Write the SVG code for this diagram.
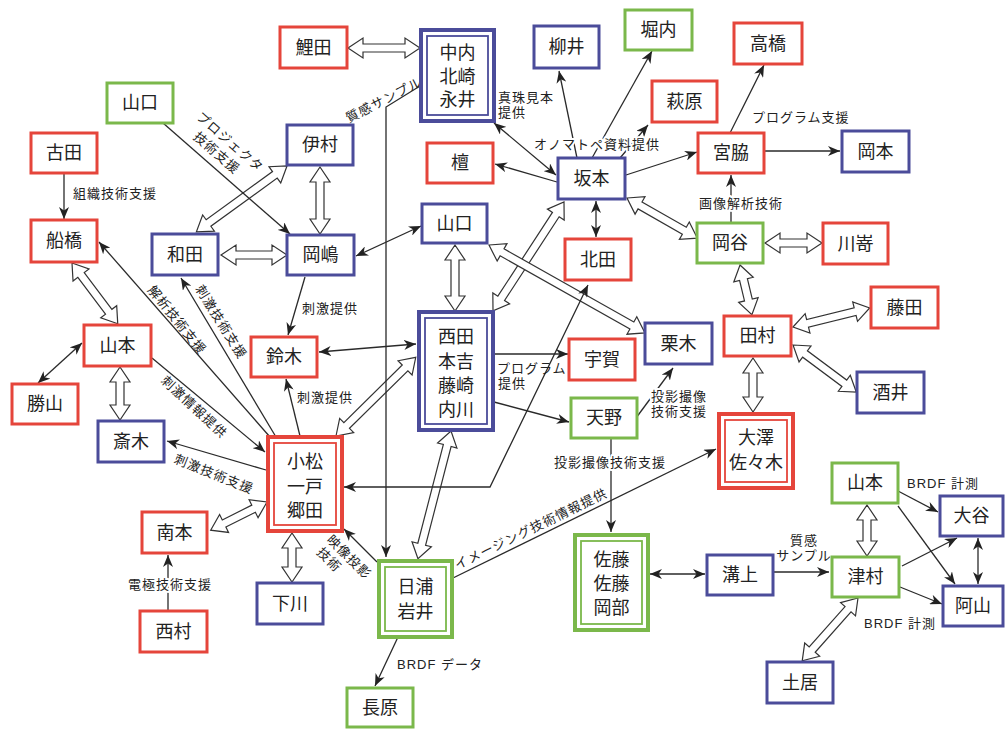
<svg xmlns="http://www.w3.org/2000/svg" width="1006" height="729" viewBox="0 0 1006 729">
<style>
text{font-family:'Liberation Sans','Noto Sans CJK JP',sans-serif;fill:#222}
.n{font-size:18px;text-anchor:middle;dominant-baseline:central}
.l{font-size:13px;letter-spacing:1px;dominant-baseline:central}
.m{text-anchor:middle}
.h{paint-order:stroke;stroke:#fff;stroke-width:4px;stroke-linejoin:round}
rect{fill:#fff}
.r{stroke:#e5453b;stroke-width:3}
.b{stroke:#4b4c9a;stroke-width:3}
.g{stroke:#7bb84b;stroke-width:3}
.o{stroke-width:4}
.i{stroke-width:1.8}
.ba{fill:#fff;stroke:#333;stroke-width:1.2;stroke-linejoin:miter}
.t{fill:none;stroke:#2a2a2a;stroke-width:1.3}
.e{marker-end:url(#ah)}
.d{marker-start:url(#ah);marker-end:url(#ah)}
</style>
<defs>
<marker id="ah" viewBox="0 0 12 10" refX="12" refY="5" markerWidth="12" markerHeight="10" markerUnits="userSpaceOnUse" orient="auto-start-reverse"><path d="M0,0 L12,5 L0,10 L3.5,5 z" fill="#222"/></marker>
</defs>
<rect x="0" y="0" width="1006" height="729" style="fill:#fff"/>

<g id="connectors">
<g id="block-arrows">
<polygon class="ba" transform="translate(348,48)" points="0,0 15,-10 15,-4 57,-4 57,-10 72,0 57,10 57,4 15,4 15,10"/>
<polygon class="ba" transform="translate(320,167) rotate(90)" points="0,0 15,-10 15,-4 52,-4 52,-10 67,0 52,10 52,4 15,4 15,10"/>
<polygon class="ba" transform="translate(287,166) rotate(144)" points="0,0 15,-10 15,-4 97,-4 97,-10 112,0 97,10 97,4 15,4 15,10"/>
<polygon class="ba" transform="translate(221,255)" points="0,0 15,-10 15,-4 51,-4 51,-10 66,0 51,10 51,4 15,4 15,10"/>
<polygon class="ba" transform="translate(72,263) rotate(53)" points="0,0 15,-10 15,-4 61,-4 61,-10 76,0 61,10 61,4 15,4 15,10"/>
<polygon class="ba" transform="translate(120,367) rotate(90)" points="0,0 15,-10 15,-4 38,-4 38,-10 53,0 38,10 38,4 15,4 15,10"/>
<polygon class="ba" transform="translate(292,533) rotate(90)" points="0,0 15,-10 15,-4 34,-4 34,-10 49,0 34,10 34,4 15,4 15,10"/>
<polygon class="ba" transform="translate(267,502) rotate(153.4)" points="0,0 15,-10 15,-4 48,-4 48,-10 63,0 48,10 48,4 15,4 15,10"/>
<polygon class="ba" transform="translate(336,436) rotate(-44.6)" points="0,0 15,-10 15,-4 97,-4 97,-10 112,0 97,10 97,4 15,4 15,10"/>
<polygon class="ba" transform="translate(455,245) rotate(90)" points="0,0 15,-10 15,-4 51,-4 51,-10 66,0 51,10 51,4 15,4 15,10"/>
<polygon class="ba" transform="translate(564,202) rotate(123.1)" points="0,0 15,-10 15,-4 115,-4 115,-10 130,0 115,10 115,4 15,4 15,10"/>
<polygon class="ba" transform="translate(489,245) rotate(29.4)" points="0,0 15,-10 15,-4 164,-4 164,-10 179,0 164,10 164,4 15,4 15,10"/>
<polygon class="ba" transform="translate(627,198) rotate(29.7)" points="0,0 15,-10 15,-4 66,-4 66,-10 81,0 66,10 66,4 15,4 15,10"/>
<polygon class="ba" transform="translate(765,243)" points="0,0 15,-10 15,-4 42,-4 42,-10 57,0 42,10 42,4 15,4 15,10"/>
<polygon class="ba" transform="translate(740,265) rotate(76.5)" points="0,0 15,-10 15,-4 36,-4 36,-10 51,0 36,10 36,4 15,4 15,10"/>
<polygon class="ba" transform="translate(793,327) rotate(-13.9)" points="0,0 15,-10 15,-4 64,-4 64,-10 79,0 64,10 64,4 15,4 15,10"/>
<polygon class="ba" transform="translate(793,345) rotate(36.7)" points="0,0 15,-10 15,-4 64,-4 64,-10 79,0 64,10 64,4 15,4 15,10"/>
<polygon class="ba" transform="translate(753,358) rotate(90)" points="0,0 15,-10 15,-4 39,-4 39,-10 54,0 39,10 39,4 15,4 15,10"/>
<polygon class="ba" transform="translate(451,431) rotate(104.5)" points="0,0 15,-10 15,-4 117,-4 117,-10 132,0 117,10 117,4 15,4 15,10"/>
<polygon class="ba" transform="translate(867,505) rotate(90)" points="0,0 15,-10 15,-4 36,-4 36,-10 51,0 36,10 36,4 15,4 15,10"/>
<polygon class="ba" transform="translate(858,598) rotate(131.6)" points="0,0 15,-10 15,-4 69,-4 69,-10 84,0 69,10 69,4 15,4 15,10"/>
</g>
<g id="thin-arrows">
<line class="t e" x1="64" y1="174" x2="64" y2="219"/>
<line class="t e" x1="163" y1="123" x2="290" y2="234"/>
<line class="t d" x1="356" y1="256" x2="421" y2="226"/>
<line class="t e" x1="305" y1="277" x2="288" y2="335"/>
<line class="t e" x1="276" y1="437" x2="181" y2="278"/>
<line class="t e" x1="270" y1="437" x2="99" y2="242"/>
<line class="t e" x1="152" y1="358" x2="265" y2="452"/>
<line class="t e" x1="266" y1="470" x2="167" y2="441"/>
<line class="t e" x1="300" y1="436" x2="286" y2="379"/>
<line class="t d" x1="319" y1="352" x2="416" y2="344"/>
<line class="t d" x1="38" y1="383" x2="82" y2="343"/>
<line class="t e" x1="168" y1="611" x2="168" y2="555"/>
<polyline class="t e" points="420,86 386,107 386,557"/>
<line class="t d" x1="556" y1="175" x2="494" y2="123"/>
<line class="t e" x1="557" y1="182" x2="495" y2="164"/>
<line class="t e" x1="577" y1="158" x2="559" y2="71"/>
<line class="t e" x1="592" y1="158" x2="652" y2="51"/>
<line class="t e" x1="620" y1="158" x2="648" y2="125"/>
<line class="t e" x1="626" y1="175" x2="697" y2="152"/>
<line class="t e" x1="730" y1="133" x2="764" y2="65"/>
<line class="t e" x1="765" y1="151" x2="840" y2="151"/>
<line class="t e" x1="731" y1="222" x2="731" y2="175"/>
<line class="t d" x1="596" y1="201" x2="596" y2="237"/>
<line class="t e" x1="494" y1="354" x2="568" y2="354"/>
<line class="t e" x1="494" y1="402" x2="569" y2="422"/>
<line class="t e" x1="636" y1="418" x2="673" y2="368"/>
<line class="t e" x1="611" y1="439" x2="611" y2="532"/>
<line class="t e" x1="453" y1="578" x2="716" y2="449"/>
<polyline class="t d" points="344,487 490,487 588,285"/>
<line class="t e" x1="377" y1="562" x2="344" y2="529"/>
<line class="t e" x1="398" y1="637" x2="375" y2="686"/>
<line class="t d" x1="650" y1="574" x2="705" y2="574"/>
<line class="t e" x1="774" y1="572" x2="829" y2="572"/>
<line class="t e" x1="898" y1="491" x2="938" y2="512"/>
<line class="t e" x1="898" y1="506" x2="955" y2="584"/>
<line class="t e" x1="902" y1="566" x2="957" y2="538"/>
<line class="t e" x1="900" y1="587" x2="942" y2="604"/>
<line class="t d" x1="978" y1="538" x2="978" y2="584"/>
</g>
<g id="labels">
<text class="l" x="73" y="193">組織技術支援</text>
<g transform="translate(230,142) rotate(41)"><text class="l m" x="0" y="0">プロジェクタ</text><text class="l m" x="-3" y="17">技術支援</text></g>
<text class="l m" transform="translate(384,100) rotate(-27)">質感サンプル</text>
<text class="l m" transform="translate(177,320) rotate(51)">解析技術支援</text>
<text class="l m" transform="translate(221,322) rotate(58)">刺激技術支援</text>
<text class="l m" transform="translate(194,407) rotate(43)">刺激情報提供</text>
<text class="l m" transform="translate(214,474) rotate(22)">刺激技術支援</text>
<text class="l" x="302" y="308">刺激提供</text>
<text class="l" x="297" y="397">刺激提供</text>
<text class="l" x="498" y="97">真珠見本</text>
<text class="l" x="498" y="112">提供</text>
<text class="l h" x="534" y="144">オノマトペ資料提供</text>
<text class="l" x="752" y="117">プログラム支援</text>
<text class="l m h" x="741" y="203">画像解析技術</text>
<text class="l" x="497" y="368">プログラム</text>
<text class="l" x="498" y="383">提供</text>
<text class="l h" x="651" y="396">投影撮像</text>
<text class="l h" x="651" y="411">技術支援</text>
<text class="l m h" x="610" y="462">投影撮像技術支援</text>
<text class="l m h" x="170" y="584">電極技術支援</text>
<g transform="translate(349,557) rotate(45)"><text class="l m" x="0" y="0">映像投影</text><text class="l m" x="-12" y="16">技術</text></g>
<text class="l m" transform="translate(531,529) rotate(-26)">イメージング技術情報提供</text>
<text class="l" x="397" y="664">BRDF データ</text>
<text class="l m" x="804" y="540">質感</text>
<text class="l m" x="804" y="555">サンプル</text>
<text class="l" x="907" y="483">BRDF 計測</text>
<text class="l" x="864" y="623">BRDF 計測</text>
</g>
</g>

<g id="koida"><rect class="r" x="280" y="27" width="67" height="41"/><text class="n" x="313.5" y="47.5">鯉田</text></g>
<g id="nakauchi"><rect class="b o" x="421" y="30" width="73" height="91"/><rect class="b i" x="427" y="36" width="61" height="79"/><text class="n" x="457.5" y="53">中内</text><text class="n" x="457.5" y="77">北崎</text><text class="n" x="457.5" y="100">永井</text></g>
<g id="yanai"><rect class="b" x="534" y="26" width="65" height="42"/><text class="n" x="566.5" y="47">柳井</text></g>
<g id="horiuchi"><rect class="g" x="625" y="10" width="67" height="40"/><text class="n" x="658.5" y="30">堀内</text></g>
<g id="takahashi"><rect class="r" x="734" y="23" width="68" height="41"/><text class="n" x="768" y="43.5">高橋</text></g>
<g id="hagiwara"><rect class="r" x="652" y="81" width="65" height="41"/><text class="n" x="684.5" y="101.5">萩原</text></g>
<g id="miyawaki"><rect class="r" x="698" y="133" width="66" height="40"/><text class="n" x="731" y="153">宮脇</text></g>
<g id="okamoto"><rect class="b" x="842" y="131" width="67" height="41"/><text class="n" x="875.5" y="151.5">岡本</text></g>
<g id="mayumi"><rect class="r" x="427" y="143" width="66" height="40"/><text class="n" x="460" y="163">檀</text></g>
<g id="sakamoto"><rect class="b" x="558" y="158" width="67" height="41"/><text class="n" x="591.5" y="178.5">坂本</text></g>
<g id="yamaguchi-c"><rect class="b" x="422" y="204" width="65" height="39"/><text class="n" x="454.5" y="223.5">山口</text></g>
<g id="kitada"><rect class="r" x="565" y="239" width="66" height="41"/><text class="n" x="598" y="259.5">北田</text></g>
<g id="okaya"><rect class="g" x="697" y="223" width="66" height="40"/><text class="n" x="730" y="243">岡谷</text></g>
<g id="kawasaki"><rect class="r" x="823" y="223" width="65" height="41"/><text class="n" x="855.5" y="243.5">川嵜</text></g>
<g id="furuta"><rect class="r" x="31" y="133" width="66" height="40"/><text class="n" x="64" y="153">古田</text></g>
<g id="yamaguchi-g"><rect class="g" x="107" y="83" width="66" height="40"/><text class="n" x="140" y="103">山口</text></g>
<g id="imura"><rect class="b" x="287" y="125" width="66" height="40"/><text class="n" x="320" y="145">伊村</text></g>
<g id="funabashi"><rect class="r" x="31" y="220" width="66" height="42"/><text class="n" x="64" y="241">船橋</text></g>
<g id="wada"><rect class="b" x="152" y="234" width="66" height="41"/><text class="n" x="185" y="254.5">和田</text></g>
<g id="okajima"><rect class="b" x="287" y="235" width="67" height="40"/><text class="n" x="320.5" y="255">岡嶋</text></g>
<g id="yamamoto-r"><rect class="r" x="84" y="325" width="67" height="41"/><text class="n" x="117.5" y="345.5">山本</text></g>
<g id="katsuyama"><rect class="r" x="12" y="384" width="66" height="40"/><text class="n" x="45" y="404">勝山</text></g>
<g id="saiki"><rect class="b" x="98" y="421" width="66" height="41"/><text class="n" x="131" y="441.5">斎木</text></g>
<g id="suzuki"><rect class="r" x="251" y="337" width="66" height="40"/><text class="n" x="284" y="357">鈴木</text></g>
<g id="nishida"><rect class="b o" x="419" y="312" width="74" height="118"/><rect class="b i" x="425" y="318" width="62" height="106"/><text class="n" x="456" y="337">西田</text><text class="n" x="456" y="362">本吉</text><text class="n" x="456" y="386">藤崎</text><text class="n" x="456" y="410">内川</text></g>
<g id="uga"><rect class="r" x="569" y="339" width="66" height="41"/><text class="n" x="602" y="359.5">宇賀</text></g>
<g id="kuriki"><rect class="b" x="645" y="323" width="67" height="41"/><text class="n" x="678.5" y="343.5">栗木</text></g>
<g id="amano"><rect class="g" x="571" y="398" width="66" height="40"/><text class="n" x="604" y="418">天野</text></g>
<g id="tamura"><rect class="r" x="724" y="316" width="67" height="40"/><text class="n" x="757.5" y="336">田村</text></g>
<g id="fujita"><rect class="r" x="871" y="287" width="67" height="41"/><text class="n" x="904.5" y="307.5">藤田</text></g>
<g id="sakai"><rect class="b" x="857" y="372" width="67" height="41"/><text class="n" x="890.5" y="392.5">酒井</text></g>
<g id="osawa"><rect class="r o" x="719" y="414" width="74" height="74"/><rect class="r i" x="725" y="420" width="62" height="62"/><text class="n" x="756" y="438">大澤</text><text class="n" x="756" y="463">佐々木</text></g>
<g id="komatsu"><rect class="r o" x="268" y="437" width="74" height="94"/><rect class="r i" x="274" y="443" width="62" height="82"/><text class="n" x="305" y="462">小松</text><text class="n" x="305" y="487">一戸</text><text class="n" x="305" y="511">郷田</text></g>
<g id="minamimoto"><rect class="r" x="142" y="512" width="65" height="41"/><text class="n" x="174.5" y="532.5">南本</text></g>
<g id="nishimura"><rect class="r" x="140" y="611" width="67" height="41"/><text class="n" x="173.5" y="631.5">西村</text></g>
<g id="shimokawa"><rect class="b" x="257" y="583" width="66" height="41"/><text class="n" x="290" y="603.5">下川</text></g>
<g id="hiura"><rect class="g o" x="379" y="561" width="73" height="76"/><rect class="g i" x="385" y="567" width="61" height="64"/><text class="n" x="415.5" y="587">日浦</text><text class="n" x="415.5" y="612">岩井</text></g>
<g id="nagahara"><rect class="g" x="347" y="688" width="66" height="39"/><text class="n" x="380" y="707.5">長原</text></g>
<g id="sato"><rect class="g o" x="575" y="535" width="73" height="95"/><rect class="g i" x="581" y="541" width="61" height="83"/><text class="n" x="611.5" y="560">佐藤</text><text class="n" x="611.5" y="584">佐藤</text><text class="n" x="611.5" y="608">岡部</text></g>
<g id="mizokami"><rect class="b" x="707" y="555" width="66" height="40"/><text class="n" x="740" y="575">溝上</text></g>
<g id="yamamoto-g"><rect class="g" x="832" y="463" width="66" height="40"/><text class="n" x="865" y="483">山本</text></g>
<g id="tsumura"><rect class="g" x="832" y="557" width="67" height="40"/><text class="n" x="865.5" y="577">津村</text></g>
<g id="otani"><rect class="b" x="940" y="496" width="63" height="40"/><text class="n" x="971.5" y="516">大谷</text></g>
<g id="ayama"><rect class="b" x="943" y="586" width="60" height="40"/><text class="n" x="973" y="606">阿山</text></g>
<g id="doi"><rect class="b" x="767" y="662" width="66" height="41"/><text class="n" x="800" y="682.5">土居</text></g>
</svg>
